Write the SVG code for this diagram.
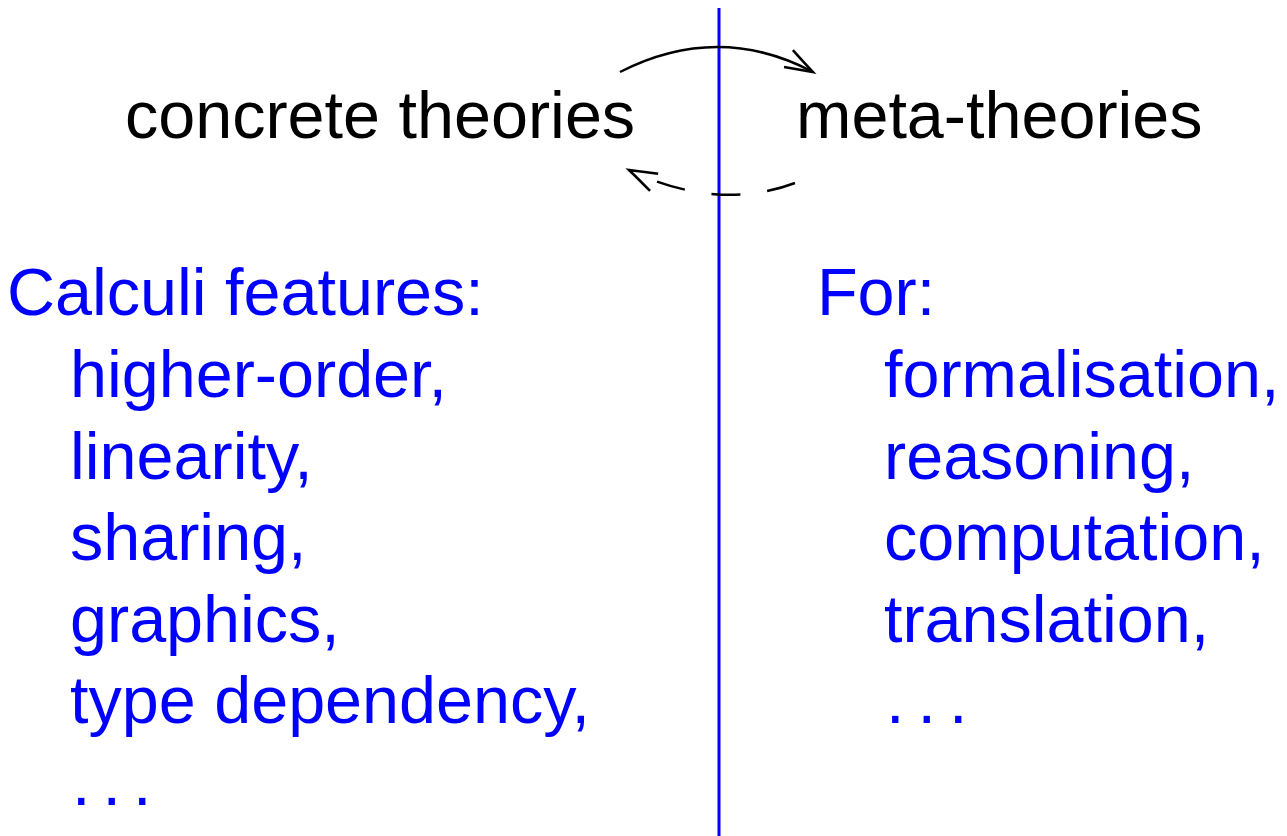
<svg xmlns="http://www.w3.org/2000/svg" width="1287" height="836" viewBox="0 0 1287 836">
<style>
text { font-family: "Liberation Sans", Arial, sans-serif; font-size: 66.5px; }
.blk { fill: #000; }
.blu { fill: #0000ff; }
.conn { fill: none; stroke: #000; stroke-width: 2.5; }
.dash { stroke-dasharray: 29 27; }
.head { fill: none; stroke: #000; stroke-width: 2.5; stroke-dasharray: none; }
</style>
<defs>
<marker id="arr" markerUnits="userSpaceOnUse" viewBox="-32 -14 36 28" markerWidth="36" markerHeight="28" refX="0" refY="0" orient="auto" overflow="visible">
<path class="head" d="M-28,-10 Q-12,-4 0,0 L-28,9"/>
</marker>
</defs>
<rect width="1287" height="836" fill="#fff"/>
<line id="divider" x1="719" y1="8" x2="719" y2="836" stroke="#0000ff" stroke-width="3"/>
<g id="concrete"><text class="blk" x="125" y="138">concrete theories</text></g>
<g id="meta"><text class="blk" x="796" y="138">meta-theories</text></g>
<g id="connectors">
<path class="conn" d="M620,72 Q718,22 813,72" marker-end="url(#arr)"/>
<path class="conn dash" d="M795,183 Q718,212 629,170" marker-end="url(#arr)"/>
</g>
<g id="left">
<text class="blu" x="7" y="315">Calculi features:</text>
<text class="blu" x="70" y="397">higher-order,</text>
<text class="blu" x="70" y="479">linearity,</text>
<text class="blu" x="70" y="560">sharing,</text>
<text class="blu" x="70" y="642">graphics,</text>
<text class="blu" x="70" y="723">type dependency,</text>
<text class="blu" x="72" y="805" letter-spacing="12">...</text>
</g>
<g id="right">
<text class="blu" x="817" y="315">For:</text>
<text class="blu" x="884" y="397">formalisation,</text>
<text class="blu" x="884" y="479">reasoning,</text>
<text class="blu" x="884" y="560">computation,</text>
<text class="blu" x="884" y="642">translation,</text>
<text class="blu" x="886" y="723" letter-spacing="13">...</text>
</g>
</svg>
